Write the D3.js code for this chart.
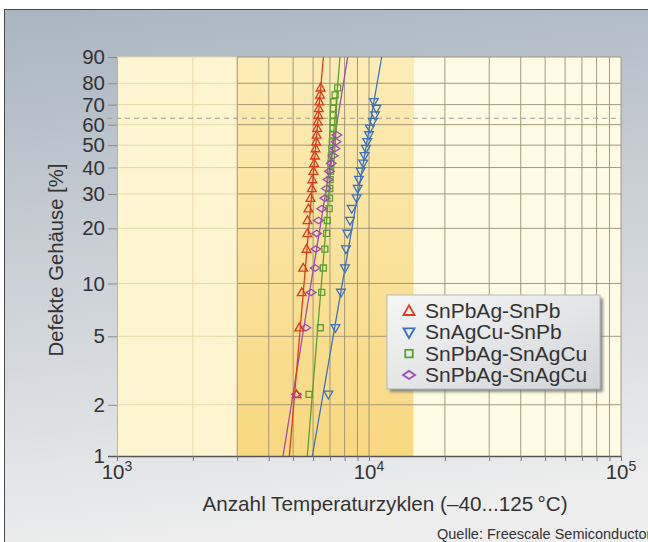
<!DOCTYPE html>
<html>
<head>
<meta charset="utf-8">
<script src="https://cdn.jsdelivr.net/npm/d3@7"></script>
<style>
  body { margin: 0; background: #fff; }
  svg { display: block; font-family: "Liberation Sans", Arial, sans-serif; }
</style>
</head>
<body>
<div id="container"></div>
<script>
// Daten
const seriesNames = ["SnPbAg-SnPb", "SnAgCu-SnPb", "SnPbAg-SnAgCu", "SnPbAg-SnAgCu"];
// Medianränge in % (Punkt i gehört zu rank[i])
const ranks = [2.3, 5.6, 8.9, 12.2, 15.5, 18.8, 22.0, 25.3, 28.6, 31.9, 35.2, 38.5,
               41.8, 45.1, 48.4, 51.6, 54.9, 58.2, 61.5, 64.8, 68.1, 71.4, 74.7, 78.0];
const cyclesSnPbAgSnPb = [5160, 5290, 5410, 5480, 5650, 5690, 5700, 5750, 5860, 5930, 5960, 6020,
                          6060, 6100, 6140, 6170, 6200, 6230, 6260, 6290, 6320, 6350, 6390, 6430];
const cyclesSnAgCuSnPb = [6900, 7360, 7740, 8030, 8100, 8200, 8410, 8540, 8930, 9020, 9120, 9265,
                          9490, 9600, 9720, 9840, 10000, 10090, 10350, 10560, 10700, 10450];
const cyclesSnPbAgSnAgCuA = [5780, 6410, 6490, 6590, 6680, 6790, 6830, 6950, 6970, 6990, 7010, 7040,
                             7060, 7090, 7120, 7150, 7180, 7200, 7210, 7220, 7230, 7250, 7340, 7510];
const cyclesSnPbAgSnAgCuB = [5150, 5613, 5890, 6110, 6150, 6200, 6300, 6490, 6680, 6780, 6880, 6960,
                             7080, 7200, 7330, 7400, 7450];
// Ausgleichsgeraden: Zyklen bei 1 % und bei 90 %
const fitAt1 = [4830, 5960, 5690, 4560];
const fitAt90 = [6590, 11230, 7670, 8230];
const yTicks = [1, 2, 5, 10, 20, 30, 40, 50, 60, 70, 80, 90];
const xDecades = [1e3, 1e4, 1e5];
const xGrid = [1000, 2000, 3000, 4000, 5000, 6000, 7000, 8000, 9000,
               10000, 20000, 30000, 40000, 50000, 60000, 70000, 80000, 90000, 100000];
const shadeFrom = 3000, shadeTo = 15000;
const charLife = 63.2;

const colors = ["#e03c1c", "#3d72c2", "#5aa12e", "#9a4cb4"];

const width = 648;
const height = 542;
const mLeft = 117, mRight = 621, mTop = 57, mBottom = 456;

// Skalen
const x = d3.scaleLog().domain([1e3, 1e5]).range([mLeft, mRight]);
const wb = p => Math.log(-Math.log(1 - p / 100)); // Weibull-Papier
const yLin = d3.scaleLinear().domain([wb(1), wb(90)]).range([mBottom, mTop]);
const y = p => yLin(wb(p));
y.copy = () => y;
y.range = () => yLin.range();
y.domain = () => [1, 90];

const svg = d3.create("svg")
    .attr("width", width)
    .attr("height", height);

const defs = svg.append("defs");

const bgGrad = defs.append("linearGradient").attr("id", "bg")
    .attr("x1", 0).attr("y1", 0).attr("x2", 0.15).attr("y2", 1);
bgGrad.append("stop").attr("offset", 0).attr("stop-color", "#a9b5c1");
bgGrad.append("stop").attr("offset", 0.45).attr("stop-color", "#c9cfd5");
bgGrad.append("stop").attr("offset", 1).attr("stop-color", "#eeeeee");

const shadeGrad = defs.append("linearGradient").attr("id", "shade")
    .attr("x1", 0).attr("y1", 0).attr("x2", 0).attr("y2", 1);
shadeGrad.append("stop").attr("offset", 0).attr("stop-color", "#fcecb6");
shadeGrad.append("stop").attr("offset", 1).attr("stop-color", "#f8d880");

const legGrad = defs.append("linearGradient").attr("id", "leg")
    .attr("x1", 0).attr("y1", 0).attr("x2", 1).attr("y2", 1);
legGrad.append("stop").attr("offset", 0).attr("stop-color", "#f6f6f6");
legGrad.append("stop").attr("offset", 1).attr("stop-color", "#d2d5d8");

const blur = defs.append("filter").attr("id", "blur")
    .attr("x", "-10%").attr("y", "-10%").attr("width", "130%").attr("height", "130%");
blur.append("feGaussianBlur").attr("stdDeviation", 1.5);

// Hintergrund-Tafel
svg.append("rect")
    .attr("x", 4.5).attr("y", 9.5)
    .attr("width", 660).attr("height", 550)
    .attr("fill", "url(#bg)")
    .attr("stroke", "#4a4a4a")
    .attr("stroke-width", 1);

// Flächen im Diagramm
svg.append("rect")
    .attr("x", x(1e3)).attr("y", mTop)
    .attr("width", x(shadeFrom) - x(1e3)).attr("height", mBottom - mTop)
    .attr("fill", "#fdf4d0");
svg.append("rect")
    .attr("x", x(shadeFrom)).attr("y", mTop)
    .attr("width", x(shadeTo) - x(shadeFrom)).attr("height", mBottom - mTop)
    .attr("fill", "url(#shade)");
svg.append("rect")
    .attr("x", x(shadeTo)).attr("y", mTop)
    .attr("width", x(1e5) - x(shadeTo)).attr("height", mBottom - mTop)
    .attr("fill", "#fffbe4");

// Gitter
const grid = svg.append("g");
grid.selectAll("line.v")
    .data(xGrid.filter(d => d > 1000))
    .join("line")
    .attr("x1", d => x(d)).attr("x2", d => x(d))
    .attr("y1", mTop).attr("y2", mBottom)
    .attr("stroke", d => d < shadeFrom ? "#e6d7a6" : "#9c8e72")
    .attr("stroke-width", 0.9);
grid.selectAll("line.hl")
    .data(yTicks.slice(1))
    .join("line")
    .attr("x1", x(1e3)).attr("x2", x(shadeFrom))
    .attr("y1", d => y(d)).attr("y2", d => y(d))
    .attr("stroke", "#e6d7a6")
    .attr("stroke-width", 0.9);
grid.selectAll("line.hr")
    .data(yTicks.slice(1))
    .join("line")
    .attr("x1", x(shadeFrom)).attr("x2", x(1e5))
    .attr("y1", d => y(d)).attr("y2", d => y(d))
    .attr("stroke", "#9c8e72")
    .attr("stroke-width", 0.9);

// 63,2 %-Linie
svg.append("line")
    .attr("x1", 107).attr("x2", x(1e5))
    .attr("y1", y(charLife)).attr("y2", y(charLife))
    .attr("stroke", "#a09a90")
    .attr("stroke-width", 1)
    .attr("stroke-dasharray", "5,4");

// Achsen
const yAxis = svg.append("g")
    .attr("transform", `translate(${mLeft},0)`)
    .call(d3.axisLeft(y).tickValues(yTicks).tickSize(9).tickSizeOuter(0).tickPadding(3));
yAxis.select(".domain").attr("stroke", "#b8b4a8");
yAxis.selectAll(".tick line").attr("stroke", "#8a8a8a");
yAxis.selectAll(".tick text")
    .attr("fill", "#333")
    .style("font-size", "20.5px")
    .style("font-family", "'Liberation Sans', Arial, sans-serif");
yAxis.selectAll(".tick").filter(d => d === 1).select("line")
    .attr("stroke", "#555").attr("stroke-width", 1.5);

const xAxis = svg.append("g")
    .attr("transform", `translate(0,${mBottom})`)
    .call(d3.axisBottom(x).tickValues(xGrid).tickSize(5).tickSizeOuter(0).tickFormat(() => ""));
xAxis.select(".domain").attr("stroke", "#555").attr("stroke-width", 1.5);
xAxis.selectAll(".tick line").attr("stroke", "#777");

const decLabels = svg.append("g")
    .selectAll("text")
    .data(xDecades)
    .join("text")
    .attr("x", d => x(d))
    .attr("y", 479)
    .attr("text-anchor", "middle")
    .attr("fill", "#333")
    .style("font-size", "20.5px");
decLabels.append("tspan").text("10");
decLabels.append("tspan")
    .attr("dy", -8)
    .style("font-size", "14px")
    .text(d => Math.round(Math.log10(d)));

svg.append("text")
    .attr("x", 385).attr("y", 511)
    .attr("text-anchor", "middle")
    .attr("fill", "#333")
    .style("font-size", "20.7px")
    .text("Anzahl Temperaturzyklen (–40...125\u2009°C)");

svg.append("text")
    .attr("transform", "translate(63,260) rotate(-90)")
    .attr("text-anchor", "middle")
    .attr("fill", "#333")
    .style("font-size", "20.3px")
    .text("Defekte Gehäuse [%]");

svg.append("text")
    .attr("x", 437).attr("y", 539)
    .attr("fill", "#333")
    .style("font-size", "14.5px")
    .text("Quelle: Freescale Semiconductor");

// Marker
const markers = [
  s => `M0,${-4.6 * s}L${4.4 * s},${3.2 * s}L${-4.4 * s},${3.2 * s}Z`,
  s => `M${-4.4 * s},${-3.2 * s}L${4.4 * s},${-3.2 * s}L0,${4.6 * s}Z`,
  s => `M${-3 * s},${-3 * s}h${6 * s}v${6 * s}h${-6 * s}Z`,
  s => `M${-4.8 * s},0L0,${-3.2 * s}L${4.8 * s},0L0,${3.2 * s}Z`
];

const allCycles = [cyclesSnPbAgSnPb, cyclesSnAgCuSnPb, cyclesSnPbAgSnAgCuA, cyclesSnPbAgSnAgCuB];

const line = d3.line()
    .x(d => x(d[0]))
    .y(d => y(d[1]));

// Reihenfolge: grün, lila, rot, blau
const order = [2, 3, 0, 1];
const plot = svg.append("g");
order.forEach(k => {
  plot.append("path")
      .datum([[fitAt1[k], 1], [fitAt90[k], 90]])
      .attr("fill", "none")
      .attr("stroke", colors[k])
      .attr("stroke-width", 1.3)
      .attr("d", line);
});
order.forEach(k => {
  plot.append("g").selectAll("path")
      .data(allCycles[k])
      .join("path")
      .attr("transform", (d, i) => `translate(${x(d)},${y(ranks[i])})`)
      .attr("d", markers[k](1))
      .attr("fill", "none")
      .attr("stroke", colors[k])
      .attr("stroke-width", 1.3);
});

// Legende
const lx = 387, ly = 295, lw = 213, lh = 94;
svg.append("rect")
    .attr("x", lx + 3).attr("y", ly + 3)
    .attr("width", lw).attr("height", lh)
    .attr("fill", "#6b6f74")
    .attr("opacity", 0.8)
    .attr("filter", "url(#blur)");
svg.append("rect")
    .attr("x", lx).attr("y", ly)
    .attr("width", lw).attr("height", lh)
    .attr("fill", "url(#leg)")
    .attr("stroke", "#b5b8bb")
    .attr("stroke-width", 1);

const legRows = svg.append("g")
    .selectAll("g")
    .data(seriesNames)
    .join("g")
    .attr("transform", (d, i) => `translate(${lx + 22},${ly + 16 + i * 21.3})`);
legRows.append("path")
    .attr("d", (d, i) => markers[i](1.25))
    .attr("fill", "none")
    .attr("stroke", (d, i) => colors[i])
    .attr("stroke-width", 1.8);
legRows.append("text")
    .attr("x", 16)
    .attr("y", 7)
    .attr("fill", "#333")
    .style("font-size", "21px")
    .text(d => d);

document.getElementById("container").append(svg.node());
</script>
</body>
</html>
